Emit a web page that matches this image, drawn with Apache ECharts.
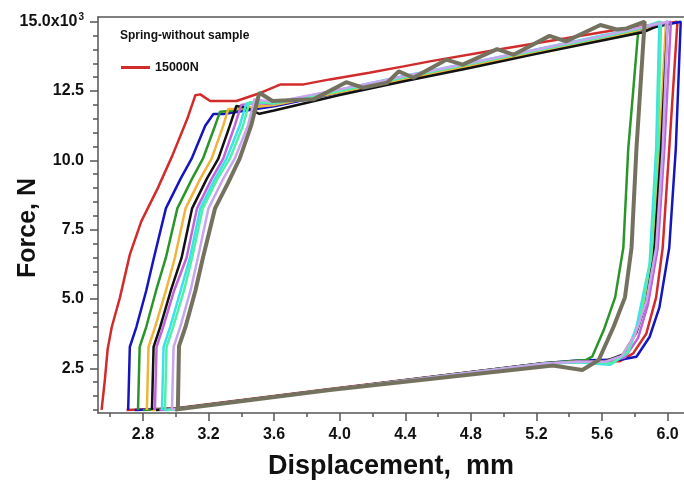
<!DOCTYPE html>
<html><head><meta charset="utf-8">
<script src="https://cdn.jsdelivr.net/npm/echarts@6/dist/echarts.min.js"></script>
<style>html,body{margin:0;padding:0;background:#fff}#c{width:684px;height:485px}</style>
</head><body><div id="c"></div>
<script>
// Tick values
const xMajorTicks = [2.8, 3.2, 3.6, 4.0, 4.4, 4.8, 5.2, 5.6, 6.0];
const xMinorTicks = [2.6, 3.0, 3.4, 3.8, 4.2, 4.6, 5.0, 5.4, 5.8];
const yMajorTicks = [2.5, 5.0, 7.5, 10.0, 12.5, 15.0];
const yMinorTicks = [1.0, 1.5, 2.0, 3.0, 3.5, 4.0, 4.5, 5.5, 6.0, 6.5, 7.0, 8.0, 8.5, 9.0, 9.5, 10.5, 11.0, 11.5, 12.0, 13.0, 13.5, 14.0, 14.5];

// Loops: [displacement mm, force kN]
const redLoop = [[2.548,1.0],[2.568,2.09],[2.585,3.2],[2.61,3.99],[2.66,5.06],[2.72,6.6],[2.79,7.8],[2.89,8.99],[2.98,10.18],[3.07,11.49],[3.12,12.35],[3.15,12.38],[3.21,12.14],[3.37,12.14],[3.52,12.44],[3.64,12.74],[3.78,12.74],[3.94,12.92],[4.18,13.16],[4.39,13.39],[4.55,13.57],[4.96,13.99],[5.38,14.4],[5.7,14.72],[6.06,15.0],[6.01,10.42],[5.97,6.85],[5.93,5.06],[5.87,3.75],[5.79,3.04],[5.71,2.76],[5.45,2.74],[5.24,2.68],[3.94,1.76],[3.0,1.06],[2.7,1.0]];
const blueLoop = [[2.71,1.0],[2.72,3.27],[2.76,3.99],[2.82,5.3],[2.867,6.49],[2.94,8.27],[3.03,9.34],[3.097,10.06],[3.18,11.25],[3.23,11.67],[3.29,11.67],[3.6,11.95],[4.0,12.45],[4.4,12.95],[4.8,13.42],[5.2,13.9],[5.6,14.4],[5.9,14.78],[6.08,15.0],[6.05,10.42],[6.01,6.85],[5.95,4.7],[5.89,3.63],[5.81,2.92],[5.72,2.82],[5.45,2.78],[5.24,2.68],[3.94,1.74],[3.0,1.04],[2.75,1.0]];
const greenLoop = [[2.77,1.0],[2.78,3.27],[2.82,3.99],[2.88,5.3],[2.94,6.49],[3.01,8.27],[3.1,9.34],[3.166,10.06],[3.24,11.25],[3.27,11.75],[3.33,11.78],[3.6,12.02],[4.0,12.5],[4.4,12.98],[4.8,13.45],[5.2,13.95],[5.6,14.42],[5.82,14.62],[5.79,12.5],[5.76,10.42],[5.73,6.85],[5.68,5.06],[5.61,3.87],[5.54,2.92],[5.5,2.8],[5.24,2.68],[3.94,1.74],[3.0,1.04],[2.8,1.0]];
const orangeLoop = [[2.824,1.0],[2.834,3.27],[2.874,3.99],[2.94,5.3],[2.995,6.49],[3.06,8.27],[3.15,9.34],[3.219,10.06],[3.29,11.25],[3.32,11.85],[3.38,11.86],[3.6,12.0],[4.0,12.46],[4.4,12.92],[4.8,13.4],[5.2,13.9],[5.6,14.38],[5.96,14.9],[5.99,15.0],[5.95,10.42],[5.91,6.85],[5.86,4.8],[5.8,3.7],[5.72,2.95],[5.62,2.76],[5.45,2.75],[5.24,2.67],[3.94,1.73],[3.0,1.03],[2.85,1.0]];
const blackLoop = [[2.855,1.0],[2.865,3.27],[2.905,3.99],[2.97,5.3],[3.036,6.49],[3.1,8.27],[3.19,9.34],[3.26,10.06],[3.33,11.25],[3.37,11.96],[3.43,11.9],[3.51,11.68],[3.6,11.8],[4.0,12.36],[4.4,12.86],[4.8,13.34],[5.2,13.84],[5.6,14.32],[5.85,14.62],[6.0,15.0],[5.96,10.42],[5.92,6.85],[5.87,4.9],[5.81,3.8],[5.73,3.0],[5.62,2.76],[5.45,2.74],[5.24,2.67],[3.94,1.73],[3.0,1.03],[2.88,1.0]];
const violetLoop = [[2.873,1.0],[2.883,3.27],[2.923,3.99],[2.99,5.3],[3.066,6.49],[3.13,8.27],[3.22,9.34],[3.29,10.06],[3.36,11.25],[3.40,12.0],[3.46,12.05],[3.6,12.05],[4.0,12.55],[4.4,13.02],[4.8,13.5],[5.2,13.98],[5.6,14.45],[5.9,14.85],[6.02,15.0],[5.98,10.42],[5.94,6.85],[5.88,4.8],[5.82,3.6],[5.74,2.9],[5.64,2.74],[5.45,2.74],[5.24,2.67],[3.94,1.73],[3.0,1.03],[2.9,1.0]];
const cyanLoop = [[2.916,1.0],[2.926,3.27],[2.966,3.99],[3.03,5.3],[3.087,6.49],[3.15,8.27],[3.24,9.34],[3.31,10.06],[3.39,11.25],[3.43,12.05],[3.5,12.1],[3.6,12.08],[4.0,12.55],[4.4,13.05],[4.8,13.52],[5.2,14.0],[5.6,14.5],[5.85,14.8],[5.95,15.0],[5.93,10.42],[5.89,6.25],[5.81,3.99],[5.75,3.04],[5.65,2.63],[5.45,2.72],[5.24,2.66],[3.94,1.72],[3.0,1.02],[2.93,1.0]];
const mintLoop = [[2.934,1.0],[2.944,3.27],[2.984,3.99],[3.05,5.3],[3.10,6.49],[3.165,8.27],[3.255,9.34],[3.33,10.06],[3.41,11.25],[3.45,12.1],[3.52,12.1],[3.6,12.05],[4.0,12.5],[4.4,13.0],[4.8,13.48],[5.2,13.96],[5.6,14.44],[5.85,14.78],[5.96,15.0],[5.94,10.42],[5.9,6.5],[5.83,4.2],[5.76,3.1],[5.66,2.68],[5.45,2.73],[5.24,2.66],[3.94,1.72],[3.0,1.02],[2.95,1.0]];
const lavenderLoop = [[2.977,1.0],[2.987,3.27],[3.027,3.99],[3.09,5.3],[3.135,6.49],[3.2,8.27],[3.29,9.34],[3.36,10.06],[3.44,11.25],[3.48,12.2],[3.54,12.15],[3.6,12.1],[4.0,12.56],[4.4,13.04],[4.8,13.52],[5.2,14.0],[5.6,14.48],[5.9,14.88],[6.0,15.0],[5.97,10.42],[5.93,6.85],[5.87,4.9],[5.8,3.7],[5.72,2.95],[5.62,2.74],[5.45,2.74],[5.24,2.67],[3.94,1.73],[3.0,1.03],[2.98,1.0]];
const grayLoop = [[3.013,1.0],[3.02,3.3],[3.06,4.0],[3.12,5.3],[3.166,6.49],[3.24,8.27],[3.32,9.2],[3.39,10.06],[3.46,11.25],[3.51,12.44],[3.59,12.14],[3.84,12.2],[4.04,12.82],[4.14,12.62],[4.29,12.8],[4.36,13.21],[4.45,12.98],[4.65,13.63],[4.75,13.45],[4.96,14.01],[5.06,13.81],[5.28,14.49],[5.38,14.29],[5.59,14.88],[5.69,14.72],[5.75,14.76],[5.86,15.0],[5.87,15.0],[5.81,10.42],[5.78,6.85],[5.74,5.06],[5.67,3.99],[5.58,2.8],[5.48,2.44],[5.3,2.6],[3.94,1.72],[3.0,1.02],[3.01,1.0]];

const loops = [
  {name: '15000N', data: redLoop, color: '#d22b2b', w: 2.5},
  {name: 'blue', data: blueLoop, color: '#1515c0', w: 2.5},
  {name: 'green', data: greenLoop, color: '#2a962a', w: 2.5},
  {name: 'orange', data: orangeLoop, color: '#f0b43c', w: 2.5},
  {name: 'black', data: blackLoop, color: '#111111', w: 2.5},
  {name: 'violet', data: violetLoop, color: '#c064dc', w: 2.5},
  {name: 'cyan', data: cyanLoop, color: '#3ee0ea', w: 2.5},
  {name: 'mint', data: mintLoop, color: '#4ef0a8', w: 2.5},
  {name: 'lavender', data: lavenderLoop, color: '#c8a6ee', w: 2.5},
  {name: 'gray', data: grayLoop, color: '#74725f', w: 4}
];

const FONT = "'Liberation Sans', Arial, sans-serif";
const XMIN = 2.526, XMAX = 6.1, YMIN = 0.89, YMAX = 15.17;
const axisColor = '#555';

const chart = echarts.init(document.getElementById('c'), null, {renderer: 'canvas'});
chart.setOption({
  animation: false,
  backgroundColor: '#fff',
  title: {
    text: 'Spring-without sample', left: 115, top: 25,
    textStyle: {fontFamily: FONT, fontSize: 12, fontWeight: 'bold', color: '#111'}
  },
  legend: {
    data: ['15000N'], left: 116, top: 56, icon: 'rect', itemWidth: 29, itemHeight: 3,
    textStyle: {fontFamily: FONT, fontSize: 12.5, fontWeight: 'bold', color: '#111'},
    selectedMode: false
  },
  grid: {left: 98, right: 0, top: 17, bottom: 72, outerBoundsMode: 'none'},
  xAxis: [
    {
      type: 'value', min: XMIN, max: XMAX, position: 'bottom',
      name: 'Displacement,  mm', nameLocation: 'middle', nameGap: 40,
      nameTextStyle: {fontFamily: FONT, fontSize: 27, fontWeight: 'bold', color: '#111'},
      axisLine: {show: true, lineStyle: {color: axisColor, width: 1.5}},
      axisTick: {show: true, length: 8, inside: false, customValues: xMajorTicks, lineStyle: {color: axisColor, width: 1.5}},
      axisLabel: {show: true, margin: 14, customValues: xMajorTicks, formatter: v => v.toFixed(1),
        fontFamily: FONT, fontSize: 16, fontWeight: 'bold', color: '#111'},
      splitLine: {show: false}
    },
    {
      type: 'value', min: XMIN, max: XMAX, position: 'bottom',
      axisLine: {show: false},
      axisTick: {show: true, length: 4, customValues: xMinorTicks, lineStyle: {color: axisColor, width: 1.5}},
      axisLabel: {show: false}, splitLine: {show: false}
    },
    {
      type: 'value', min: XMIN, max: XMAX, position: 'top',
      axisLine: {show: true, lineStyle: {color: axisColor, width: 1.5}},
      axisTick: {show: false}, axisLabel: {show: false}, splitLine: {show: false}
    }
  ],
  yAxis: [
    {
      type: 'value', min: YMIN, max: YMAX, position: 'left',
      name: 'Force, N', nameLocation: 'middle', nameGap: 57, nameRotate: 90, nameMoveOverlap: false,
      nameTextStyle: {fontFamily: FONT, fontSize: 25, fontWeight: 'bold', color: '#111', padding: [0, 26, 0, 0]},
      axisLine: {show: true, lineStyle: {color: axisColor, width: 1.5}},
      axisTick: {show: true, length: 8, customValues: yMajorTicks, lineStyle: {color: axisColor, width: 1.5}},
      axisLabel: {
        show: true, margin: 14, customValues: yMajorTicks,
        formatter: v => (Math.abs(v - 15) < 1e-9 ? '{a|15.0x10}{s|3}' : '{a|' + v.toFixed(1) + '}'),
        rich: {
          a: {fontFamily: FONT, fontSize: 16, fontWeight: 'bold', color: '#111'},
          s: {fontFamily: FONT, fontSize: 10, fontWeight: 'bold', color: '#111', verticalAlign: 'top', padding: [0, 0, 8, 1]}
        }
      },
      splitLine: {show: false}
    },
    {
      type: 'value', min: YMIN, max: YMAX, position: 'left',
      axisLine: {show: false},
      axisTick: {show: true, length: 5, customValues: yMinorTicks, lineStyle: {color: axisColor, width: 1.5}},
      axisLabel: {show: false}, splitLine: {show: false}
    }
  ],
  series: loops.map(l => ({
    name: l.name, type: 'line', xAxisIndex: 0, yAxisIndex: 0,
    data: l.data, showSymbol: false, symbol: 'none', smooth: false,
    lineStyle: {color: l.color, width: l.w}, itemStyle: {color: l.color},
    emphasis: {disabled: true}
  }))
});
</script></body></html>
